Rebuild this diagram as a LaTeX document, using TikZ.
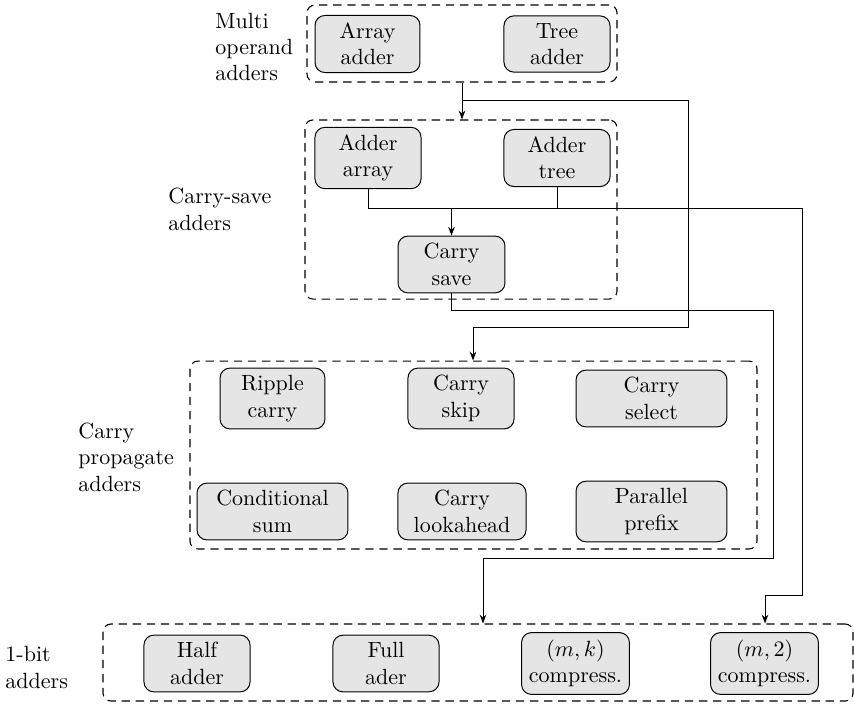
\documentclass[tikz,border=0pt]{standalone}
\usetikzlibrary{arrows.meta}
\begin{document}
\begin{tikzpicture}[x=0.4545pt,y=-0.4545pt,
  adder/.style={draw, line width=0.45pt, rounded corners=4.5pt, fill=gray!20, align=center, inner sep=3.33pt},
  group/.style={draw, line width=0.5pt, dash pattern=on 3.8pt off 2.6pt, rounded corners=3.6pt, inner sep=0pt},
  grouplabel/.style={anchor=west, align=left, inner sep=0pt},
  link/.style={line width=0.45pt},
  arr/.style={link, -{Stealth[length=4pt,width=3pt]}}]
\useasboundingbox (0,0) rectangle (854,703);

% dashed groups
\node[group, minimum width=140.9pt, minimum height=35pt] (g1) at (462,43.5) {};
\node[group, minimum width=141.8pt, minimum height=81.4pt] (g2) at (461,209.5) {};
\node[group, minimum width=257.7pt, minimum height=85.4pt] (g3) at (473.5,455) {};
\node[group, minimum width=340.9pt, minimum height=35pt] (g4) at (478,662.5) {};

% group labels
\node[grouplabel] (l1) at (215,47) {Multi\\operand\\adders};
\node[grouplabel] (l2) at (168,209.5) {Carry-save\\adders};
\node[grouplabel] (l3) at (78,457) {Carry\\propagate\\adders};
\node[grouplabel] (l4) at (5,667.5) {1-bit\\adders};

% multi operand adders
\node[adder, minimum width=47.7pt] (arradd) at (367.5,44) {Array\\adder};
\node[adder, minimum width=48.2pt] (treeadd) at (557,44) {Tree\\adder};

% carry-save adders
\node[adder, minimum width=48.2pt] (addarr) at (368,158) {Adder\\array};
\node[adder, minimum width=48.2pt] (addtree) at (557,158) {Adder\\tree};
\node[adder, minimum width=48.6pt] (csave) at (451.5,264.5) {Carry\\save};

% carry propagate adders
\node[adder, minimum width=47.7pt] (ripple) at (272.5,398.5) {Ripple\\carry};
\node[adder, minimum width=48.2pt] (cskip) at (461,398.5) {Carry\\skip};
\node[adder, minimum width=68.6pt] (cselect) at (651.5,398.5) {Carry\\select};
\node[adder, minimum width=68.6pt] (condsum) at (272.5,511.5) {Conditional\\sum};
\node[adder, minimum width=58.2pt] (clook) at (462,511.5) {Carry\\lookahead};
\node[adder, minimum width=68.6pt] (pprefix) at (651.5,511.5) {Parallel\\prefix};

% 1-bit adders
\node[adder, minimum width=48.2pt] (half) at (197,663.5) {Half\\adder};
\node[adder, minimum width=48.2pt] (full) at (386,663.5) {Full\\ader};
\node[adder, minimum width=47.7pt] (cmk) at (575.5,663.5) {$(m,k)$\\compress.};
\node[adder, minimum width=47.7pt] (cm2) at (764.5,663.5) {$(m,2)$\\compress.};

% routing points
\coordinate (b1) at (462,100);
\coordinate (b2) at (688,100);
\coordinate (b3) at (688,327);
\coordinate (b4) at (473,327);
\coordinate (j1) at (368,208);
\coordinate (j2) at (557,208);
\coordinate (jc) at (451.5,208);
\coordinate (r1) at (802,208);
\coordinate (r2) at (802,595);
\coordinate (r3) at (765,595);
\coordinate (s1) at (451.5,310);
\coordinate (s2) at (773,310);
\coordinate (s3) at (773,558);
\coordinate (s4) at (483,558);

% connectors
\draw[arr] (g1.south) -- (g1.south |- g2.north);
\draw[arr] (b1) -- (b2) -- (b3) -- (b4) -- (b4 |- g3.north);
\draw[link] (addarr.south) -- (j1) -- (j2) -- (addtree.south);
\draw[arr] (jc) -- (csave.north);
\draw[arr] (j2) -- (r1) -- (r2) -- (r3) -- (r3 |- g4.north);
\draw[arr] (csave.south) -- (s1) -- (s2) -- (s3) -- (s4) -- (s4 |- g4.north);
\end{tikzpicture}
\end{document}
